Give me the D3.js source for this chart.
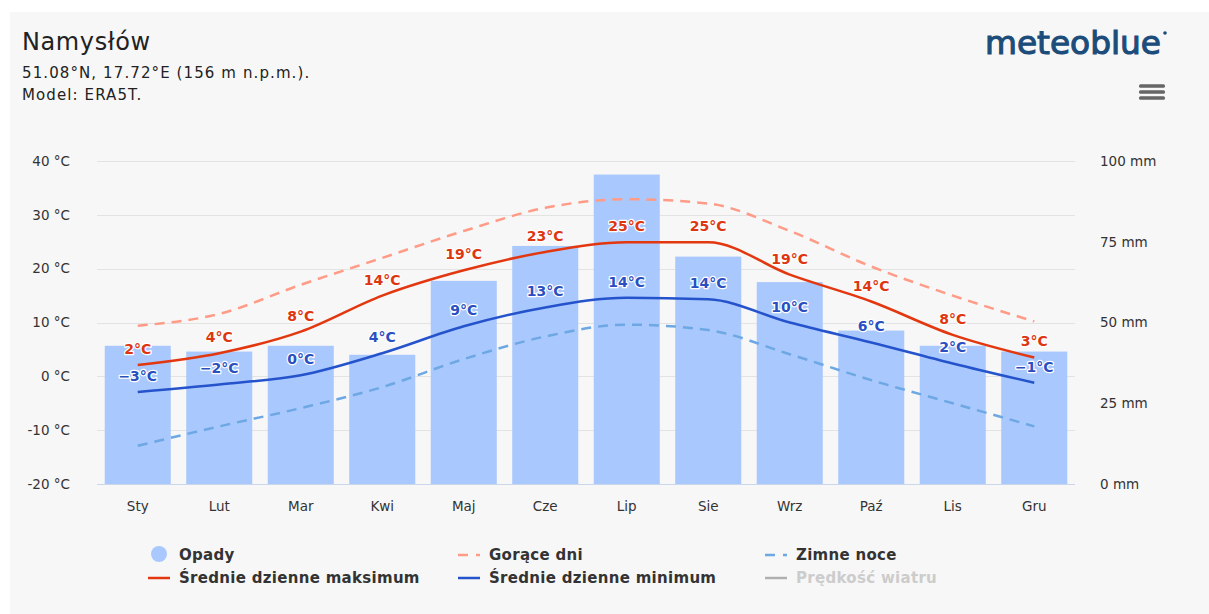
<!DOCTYPE html>
<html>
<head>
<meta charset="utf-8">
<script src="https://cdn.jsdelivr.net/npm/d3@7"></script>
<style>
  body { margin: 0; background: #fff; }
  svg { display: block; font-family: "DejaVu Sans", Verdana, sans-serif; }
</style>
</head>
<body>
<svg id="chart" width="1209" height="614"></svg>
<script>
// data
var months = ["Sty", "Lut", "Mar", "Kwi", "Maj", "Cze", "Lip", "Sie", "Wrz", "Paź", "Lis", "Gru"];
var opady = [42.8, 41.0, 42.8, 40.0, 62.9, 73.7, 95.8, 70.4, 62.5, 47.5, 42.8, 41.0];
var maxTemp = [2.1, 4.3, 8.3, 15.0, 19.7, 23.1, 24.9, 24.9, 18.9, 13.9, 7.7, 3.5];
var minTemp = [-2.9, -1.5, 0.2, 4.3, 9.3, 12.8, 14.6, 14.3, 10.0, 6.3, 2.4, -1.2];
var maxLabels = [2, 4, 8, 14, 19, 23, 25, 25, 19, 14, 8, 3];
var minLabels = [-3, -2, 0, 4, 9, 13, 14, 14, 10, 6, 2, -1];
var goraceDni = [9.4, 11.6, 17.0, 22.0, 27.0, 31.3, 32.9, 32.1, 27.0, 20.4, 15.0, 10.2];
var zimneNoce = [-12.9, -9.3, -5.9, -2.0, 3.2, 7.4, 9.6, 8.6, 4.1, -0.7, -5.0, -9.3];
var tempTicks = [-20, -10, 0, 10, 20, 30, 40];
var mmTicks = [0, 25, 50, 75, 100];

var svg = d3.select("#chart");
var width = +svg.attr("width");
var height = +svg.attr("height");

var plotLeft = 97, plotRight = 1075, plotTop = 161, plotBottom = 484;

// panel background
svg.append("rect")
  .attr("x", 10).attr("y", 12)
  .attr("width", width - 10).attr("height", height - 12)
  .attr("fill", "#f7f7f7");

// header texts
svg.append("text").attr("x", 22).attr("y", 50)
  .attr("font-size", 24).attr("letter-spacing", 0.6).attr("fill", "#222").text("Namysłów");
svg.append("text").attr("x", 22).attr("y", 78)
  .attr("font-size", 15).attr("letter-spacing", 1.1).attr("fill", "#222").text("51.08°N, 17.72°E (156 m n.p.m.).");
svg.append("text").attr("x", 22).attr("y", 100)
  .attr("font-size", 15).attr("letter-spacing", 1.1).attr("fill", "#222").text("Model: ERA5T.");

// logo
svg.append("text").attr("x", 985).attr("y", 54)
  .attr("font-size", 32).attr("fill", "#1b4c7a")
  .attr("stroke", "#1b4c7a").attr("stroke-width", 1.1)
  .attr("textLength", 176).attr("lengthAdjust", "spacingAndGlyphs")
  .text("meteoblue");
svg.append("circle").attr("cx", 1165).attr("cy", 33).attr("r", 1.8).attr("fill", "#1b4c7a");

// menu icon
[86, 92, 98].forEach(function (y) {
  svg.append("rect").attr("x", 1139).attr("y", y - 1.8)
    .attr("width", 26).attr("height", 3.6).attr("rx", 1.5)
    .attr("fill", "#666");
});

var x = d3.scaleBand().domain(months).range([plotLeft, plotRight]).paddingInner(0.19).paddingOuter(0.095);
var xc = function (m) { return x(m) + x.bandwidth() / 2; };
var yT = d3.scaleLinear().domain([-20, 40]).range([plotBottom, plotTop]);
var yP = d3.scaleLinear().domain([0, 100]).range([plotBottom, plotTop]);

var g = svg.append("g");

// grid
g.append("g").selectAll("line").data(tempTicks).enter().append("line")
  .attr("x1", plotLeft).attr("x2", plotRight)
  .attr("y1", function (d) { return Math.round(yT(d)) + 0.5; })
  .attr("y2", function (d) { return Math.round(yT(d)) + 0.5; })
  .attr("stroke", "#e3e3e3").attr("stroke-width", 1);

// left axis
var axL = g.append("g").attr("transform", "translate(" + (plotLeft - 24) + ",0)")
  .call(d3.axisLeft(yT).tickValues(tempTicks).tickSize(0).tickFormat(function (d) { return d + " °C"; }));
axL.select(".domain").remove();
axL.selectAll("text").attr("font-size", 13.5).attr("fill", "#333").attr("font-family", "DejaVu Sans");

// right axis
var axR = g.append("g").attr("transform", "translate(" + (plotRight + 25) + ",0)")
  .call(d3.axisRight(yP).tickValues(mmTicks).tickSize(0).tickFormat(function (d) { return d + " mm"; }));
axR.select(".domain").remove();
axR.selectAll("text").attr("font-size", 13.5).attr("fill", "#333").attr("font-family", "DejaVu Sans")
  .attr("x", 0).attr("text-anchor", "start");

// bars
g.append("g").selectAll("rect").data(opady).enter().append("rect")
  .attr("x", function (d, i) { return x(months[i]); })
  .attr("width", x.bandwidth())
  .attr("y", function (d) { return yP(d); })
  .attr("height", function (d) { return plotBottom - yP(d); })
  .attr("fill", "#a9c8fd");

// bottom axis
var axB = g.append("g").attr("transform", "translate(0," + plotBottom + ")")
  .call(d3.axisBottom(x).tickSize(0).tickPadding(17));
axB.select(".domain").attr("stroke", "#ccd6eb").attr("d", "M" + plotLeft + ",0.5H" + plotRight);
axB.selectAll("text").attr("font-size", 13.5).attr("fill", "#333").attr("font-family", "DejaVu Sans");

var line = function (vals) {
  return d3.line()
    .x(function (d, i) { return xc(months[i]); })
    .y(function (d) { return yT(d); })
    .curve(d3.curveMonotoneX)(vals);
};

g.append("path").attr("d", line(zimneNoce)).attr("fill", "none")
  .attr("stroke", "#6da8e4").attr("stroke-width", 2.5).attr("stroke-dasharray", "10,7");
g.append("path").attr("d", line(goraceDni)).attr("fill", "none")
  .attr("stroke", "#ff9b86").attr("stroke-width", 2.5).attr("stroke-dasharray", "10,7");
g.append("path").attr("d", line(minTemp)).attr("fill", "none")
  .attr("stroke", "#2553cc").attr("stroke-width", 2.5);
g.append("path").attr("d", line(maxTemp)).attr("fill", "none")
  .attr("stroke", "#e2370f").attr("stroke-width", 2.5);

// data labels
function labels(vals, texts, color) {
  g.append("g").selectAll("text").data(vals).enter().append("text")
    .attr("x", function (d, i) { return xc(months[i]); })
    .attr("y", function (d) { return yT(d) - 11; })
    .attr("text-anchor", "middle")
    .attr("font-size", 14).attr("font-weight", "bold")
    .attr("fill", color)
    .attr("stroke", "#fff").attr("stroke-width", 2.5).attr("stroke-linejoin", "round")
    .attr("paint-order", "stroke")
    .text(function (d, i) { var r = texts[i]; return (r < 0 ? "−" + (-r) : r) + "°C"; });
}
labels(minTemp, minLabels, "#2a4fc0");
labels(maxTemp, maxLabels, "#dd3610");

// legend
var legend = [
  { name: "Opady", type: "circle", color: "#a9c8fd", col: 0, row: 0 },
  { name: "Gorące dni", type: "dash", color: "#ff9b86", col: 1, row: 0 },
  { name: "Zimne noce", type: "dash", color: "#6da8e4", col: 2, row: 0 },
  { name: "Średnie dzienne maksimum", type: "line", color: "#e2370f", col: 0, row: 1 },
  { name: "Średnie dzienne minimum", type: "line", color: "#2553cc", col: 1, row: 1 },
  { name: "Prędkość wiatru", type: "line", color: "#b0b0b0", col: 2, row: 1, hidden: true }
];
var colX = [148, 458, 765];
var rowY = [555, 578];
var lg = svg.append("g").selectAll("g").data(legend).enter().append("g")
  .attr("transform", function (d) { return "translate(" + colX[d.col] + "," + rowY[d.row] + ")"; });
lg.each(function (d) {
  var s = d3.select(this);
  if (d.type === "circle") {
    s.append("circle").attr("cx", 11).attr("cy", -1).attr("r", 8).attr("fill", d.color);
  } else if (d.type === "dash") {
    s.append("line").attr("x1", 0).attr("x2", 22).attr("y1", 0).attr("y2", 0)
      .attr("stroke", d.color).attr("stroke-width", 2.5).attr("stroke-dasharray", "10,8");
  } else {
    s.append("line").attr("x1", 0).attr("x2", 22).attr("y1", 0).attr("y2", 0)
      .attr("stroke", d.color).attr("stroke-width", 2.5);
  }
  s.append("text").attr("x", 31).attr("y", 5)
    .attr("font-size", 15).attr("font-weight", "bold").attr("letter-spacing", 0.3)
    .attr("fill", d.hidden ? "#cccccc" : "#333")
    .text(d.name);
});
</script>
</body>
</html>
